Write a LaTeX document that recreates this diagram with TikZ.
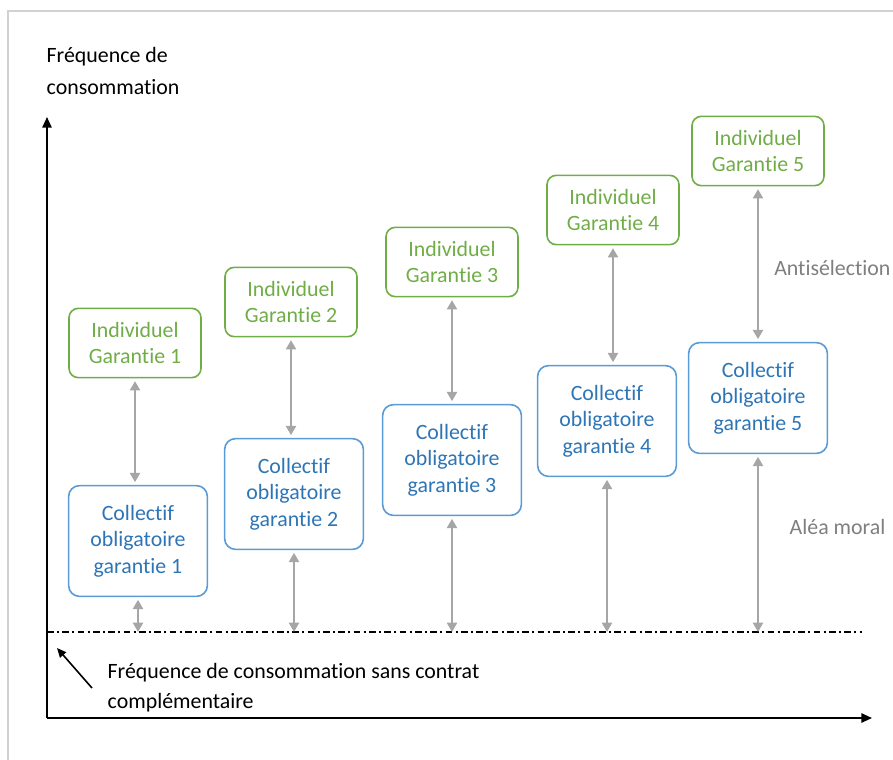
\documentclass[tikz,border=0pt]{standalone}
\usepackage{fontspec}
\setmainfont[Ligatures=NoCommon]{Carlito}
\usetikzlibrary{arrows.meta}
\definecolor{indgreen}{RGB}{112,173,71}
\definecolor{colblue}{RGB}{91,155,213}
\definecolor{coltext}{RGB}{46,117,182}
\definecolor{linkgray}{RGB}{166,166,166}
\definecolor{labgray}{RGB}{127,127,127}

\begin{document}
\begin{tikzpicture}[x=0.75pt,y=-0.75pt,font=\fontsize{16.4pt}{20pt}\selectfont,
    indiv/.style={draw=indgreen,text=indgreen,line width=1.2pt,rounded corners=7pt,
      minimum width=99pt,minimum height=52pt,align=center},
    collec/.style={draw=colblue,text=coltext,line width=1.2pt,rounded corners=8pt,
      minimum width=104pt,minimum height=83pt,align=center},
    link/.style={linkgray,line width=2.2pt,{Triangle[length=7pt,width=7.5pt]}-{Triangle[length=7pt,width=7.5pt]},shorten <=2pt,shorten >=2pt},
    axis/.style={line width=1.3pt,-{Triangle[length=8pt,width=7pt]}}]
    \useasboundingbox(0,0)rectangle(893,760);
    \draw[gray!35,line width=1pt](8,760)--(8,11)--(893,11);
    % axes
    \coordinate(o)at(47,718);
    \coordinate(ytop)at(47,117);
    \coordinate(xend)at(872,718);
    \draw[axis](o)--(ytop);
    \draw[axis](o)--(xend);
    \node[anchor=west,align=left,font=\fontsize{16.4pt}{24pt}\selectfont](ylab)at(42,71){Fréquence de\\consommation};
    % base line
    \coordinate(b0)at(47,632);
    \coordinate(bend)at(862,632);
    \draw[line width=1pt,dash pattern=on 5pt off 2.5pt on 1.5pt off 2.5pt](b0)--(bend);
    % boxes
    \node[indiv](i1)at(135,343){Individuel\\Garantie 1};
    \node[collec](c1)at(138,541){Collectif\\obligatoire\\garantie 1};
    \node[indiv](i2)at(291,302){Individuel\\Garantie 2};
    \node[collec](c2)at(294,494){Collectif\\obligatoire\\garantie 2};
    \node[indiv](i3)at(452,262){Individuel\\Garantie 3};
    \node[collec](c3)at(452,460){Collectif\\obligatoire\\garantie 3};
    \node[indiv](i4)at(613,210){Individuel\\Garantie 4};
    \node[collec](c4)at(607,421){Collectif\\obligatoire\\garantie 4};
    \node[indiv](i5)at(758,151){Individuel\\Garantie 5};
    \node[collec](c5)at(758,398){Collectif\\obligatoire\\garantie 5};
    \foreach\k in{1,...,5}{
      \draw[link](i\k.south)--(i\k.south|-c\k.north);
      \draw[link,shorten >=0pt](c\k.south)--(c\k.south|-b0);
    }
    \node[anchor=west,inner sep=0pt,text=labgray](anti)at(774,268){Antisélection};
    \node[anchor=west,text=labgray](alea)at(785,527){Aléa moral};
    % base label
    \node[anchor=west,align=left,font=\fontsize{16.4pt}{22.5pt}\selectfont](blab)at(103,688){Fréquence de consommation sans contrat\\complémentaire};
    \coordinate(ptr)at(92,688);
    \coordinate(ptrtip)at(57,648);
    \draw[line width=1.2pt,-{Triangle[length=7pt,width=6pt]}](ptr)--(ptrtip);
\end{tikzpicture}
\end{document}
